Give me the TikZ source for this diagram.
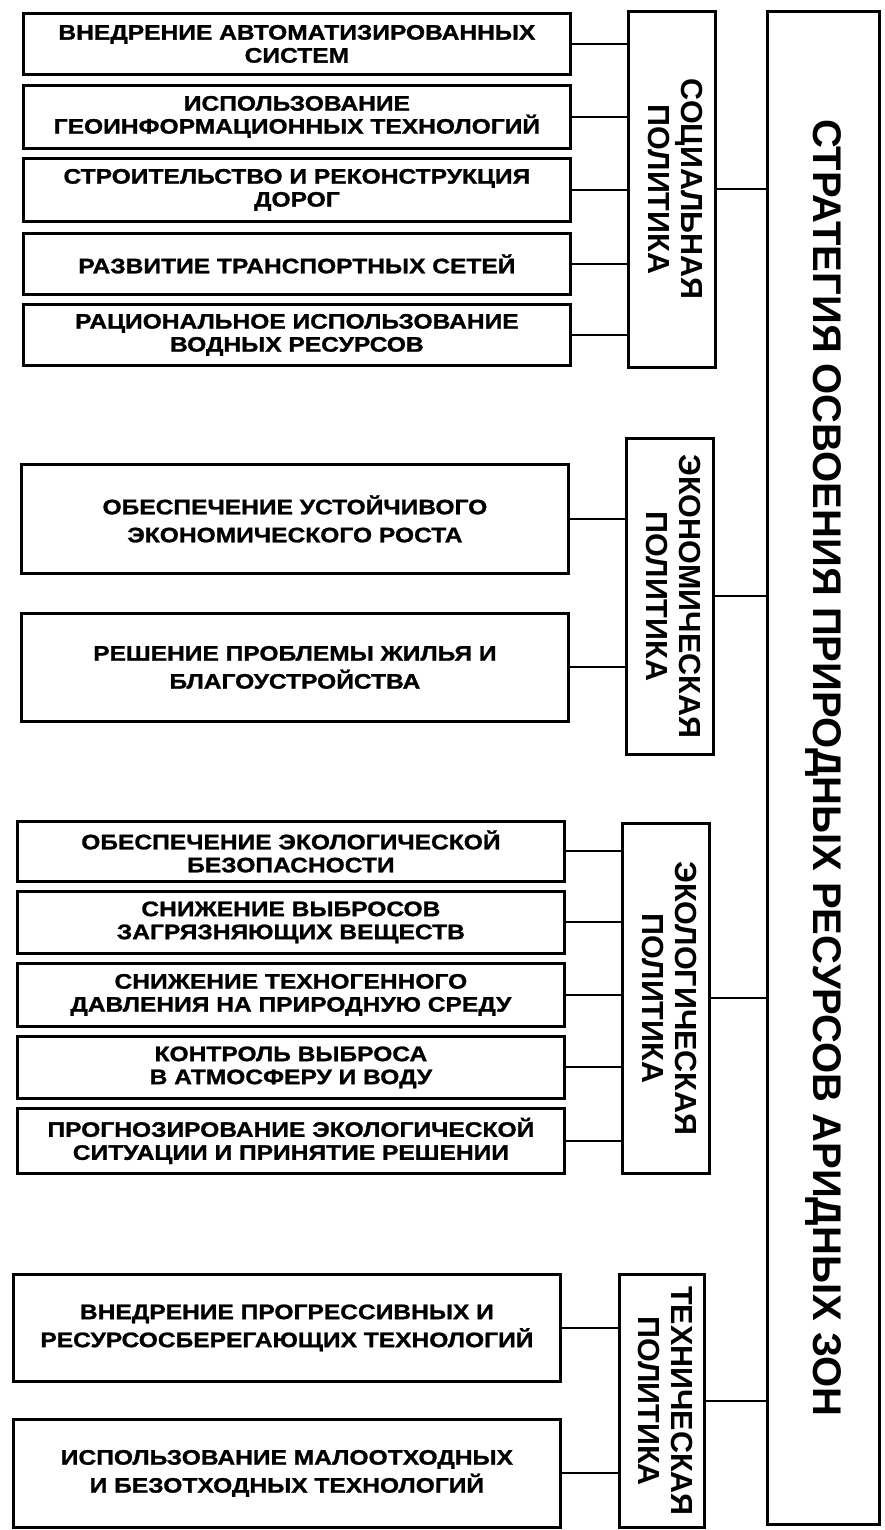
\documentclass[tikz,border=0pt]{standalone}
\usepackage{fontspec}
\setmainfont{Liberation Sans}
\newfontfamily\itemfont[FakeStretch=1.17, FakeBold=1.2]{Liberation Sans}
\usepackage{graphicx}
\usetikzlibrary{positioning}

\newcommand{\vlabel}[1]{\rotatebox{-90}{\begin{tabular}{@{}c@{}}#1\end{tabular}}}

\begin{document}
\begin{tikzpicture}[
    x=1pt, y=-1pt,
    item/.style={rectangle, draw=black, line width=2.8pt, anchor=north west, align=center, inner sep=2pt,
        minimum width=547pt, font=\itemfont\bfseries\fontsize{21}{23}\selectfont},
    wide/.style={font=\itemfont\bfseries\fontsize{21}{28}\selectfont},
    policy/.style={rectangle, draw=black, line width=2.8pt, anchor=north west, inner sep=0pt,
        minimum width=87pt, font=\bfseries\fontsize{30.5}{33}\selectfont},
    strategy/.style={rectangle, draw=black, line width=2.8pt, anchor=north west, inner sep=0pt,
        minimum width=112pt, font=\bfseries\fontsize{40}{44}\selectfont},
    link/.style={line width=1.9pt} % thinner than the boxes
]
\useasboundingbox (0,0) rectangle (885,1530);

% social policy
\node[item, minimum height=61pt] (soc1) at (22,12) {ВНЕДРЕНИЕ АВТОМАТИЗИРОВАННЫХ\\СИСТЕМ};
\node[item, minimum height=63pt] (soc2) at (22,84) {ИСПОЛЬЗОВАНИЕ\\ГЕОИНФОРМАЦИОННЫХ ТЕХНОЛОГИЙ};
\node[item, minimum height=63pt] (soc3) at (22,157) {СТРОИТЕЛЬСТВО И РЕКОНСТРУКЦИЯ\\ДОРОГ};
\node[item, minimum height=61pt] (soc4) at (22,232) {РАЗВИТИЕ ТРАНСПОРТНЫХ СЕТЕЙ};
\node[item, minimum height=61pt] (soc5) at (22,303) {РАЦИОНАЛЬНОЕ ИСПОЛЬЗОВАНИЕ\\ВОДНЫХ РЕСУРСОВ};
\node[policy, minimum height=356pt] (socpol) at (627,10) {\vlabel{СОЦИАЛЬНАЯ\\ПОЛИТИКА}};

% economic policy
\node[item, wide, minimum height=109pt] (ecn1) at (20,463) {ОБЕСПЕЧЕНИЕ УСТОЙЧИВОГО\\ЭКОНОМИЧЕСКОГО РОСТА};
\node[item, wide, minimum height=108pt] (ecn2) at (20,612) {РЕШЕНИЕ ПРОБЛЕМЫ ЖИЛЬЯ И\\БЛАГОУСТРОЙСТВА};
\node[policy, minimum height=316pt] (ecnpol) at (625,437) {\vlabel{ЭКОНОМИЧЕСКАЯ\\ПОЛИТИКА}};

% ecological policy
\node[item, minimum height=60pt] (eco1) at (16,820) {ОБЕСПЕЧЕНИЕ ЭКОЛОГИЧЕСКОЙ\\БЕЗОПАСНОСТИ};
\node[item, minimum height=62pt] (eco2) at (16,890) {СНИЖЕНИЕ ВЫБРОСОВ\\ЗАГРЯЗНЯЮЩИХ ВЕЩЕСТВ};
\node[item, minimum height=63pt] (eco3) at (16,962) {СНИЖЕНИЕ ТЕХНОГЕННОГО\\ДАВЛЕНИЯ НА ПРИРОДНУЮ СРЕДУ};
\node[item, minimum height=62pt] (eco4) at (16,1035) {КОНТРОЛЬ ВЫБРОСА\\В АТМОСФЕРУ И ВОДУ};
\node[item, minimum height=65pt] (eco5) at (16,1107) {ПРОГНОЗИРОВАНИЕ ЭКОЛОГИЧЕСКОЙ\\СИТУАЦИИ И ПРИНЯТИЕ РЕШЕНИИ};
\node[policy, minimum height=350pt] (ecopol) at (621,822) {\vlabel{ЭКОЛОГИЧЕСКАЯ\\ПОЛИТИКА}};

% technical policy
\node[item, wide, minimum height=107pt] (tec1) at (12,1273) {ВНЕДРЕНИЕ ПРОГРЕССИВНЫХ И\\РЕСУРСОСБЕРЕГАЮЩИХ ТЕХНОЛОГИЙ};
\node[item, wide, minimum height=108pt] (tec2) at (12,1418) {ИСПОЛЬЗОВАНИЕ МАЛООТХОДНЫХ\\И БЕЗОТХОДНЫХ ТЕХНОЛОГИЙ};
\node[policy, minimum width=85pt, minimum height=253pt] (tecpol) at (618,1273) {\vlabel{ТЕХНИЧЕСКАЯ\\ПОЛИТИКА}};

% strategy
\node[strategy, minimum height=1513pt] (strat) at (766,10) {\rotatebox{-90}{СТРАТЕГИЯ ОСВОЕНИЯ ПРИРОДНЫХ РЕСУРСОВ АРИДНЫХ ЗОН}};

\draw[link] (soc1.east) -- (soc1.east -| socpol.west);
\draw[link] (soc2.east) -- (soc2.east -| socpol.west);
\draw[link] (soc3.east) -- (soc3.east -| socpol.west);
\draw[link] (soc4.east) -- (soc4.east -| socpol.west);
\draw[link] (soc5.east) -- (soc5.east -| socpol.west);
\draw[link] (ecn1.east) -- (ecn1.east -| ecnpol.west);
\draw[link] (ecn2.east) -- (ecn2.east -| ecnpol.west);
\draw[link] (eco1.east) -- (eco1.east -| ecopol.west);
\draw[link] (eco2.east) -- (eco2.east -| ecopol.west);
\draw[link] (eco3.east) -- (eco3.east -| ecopol.west);
\draw[link] (eco4.east) -- (eco4.east -| ecopol.west);
\draw[link] (eco5.east) -- (eco5.east -| ecopol.west);
\draw[link] (tec1.east) -- (tec1.east -| tecpol.west);
\draw[link] (tec2.east) -- (tec2.east -| tecpol.west);

\draw[link] (socpol.east) -- (socpol.east -| strat.west);
\draw[link] (ecnpol.east) -- (ecnpol.east -| strat.west);
\draw[link] (ecopol.east) -- (ecopol.east -| strat.west);
\draw[link] (tecpol.east) -- (tecpol.east -| strat.west);

\end{tikzpicture}
\end{document}
